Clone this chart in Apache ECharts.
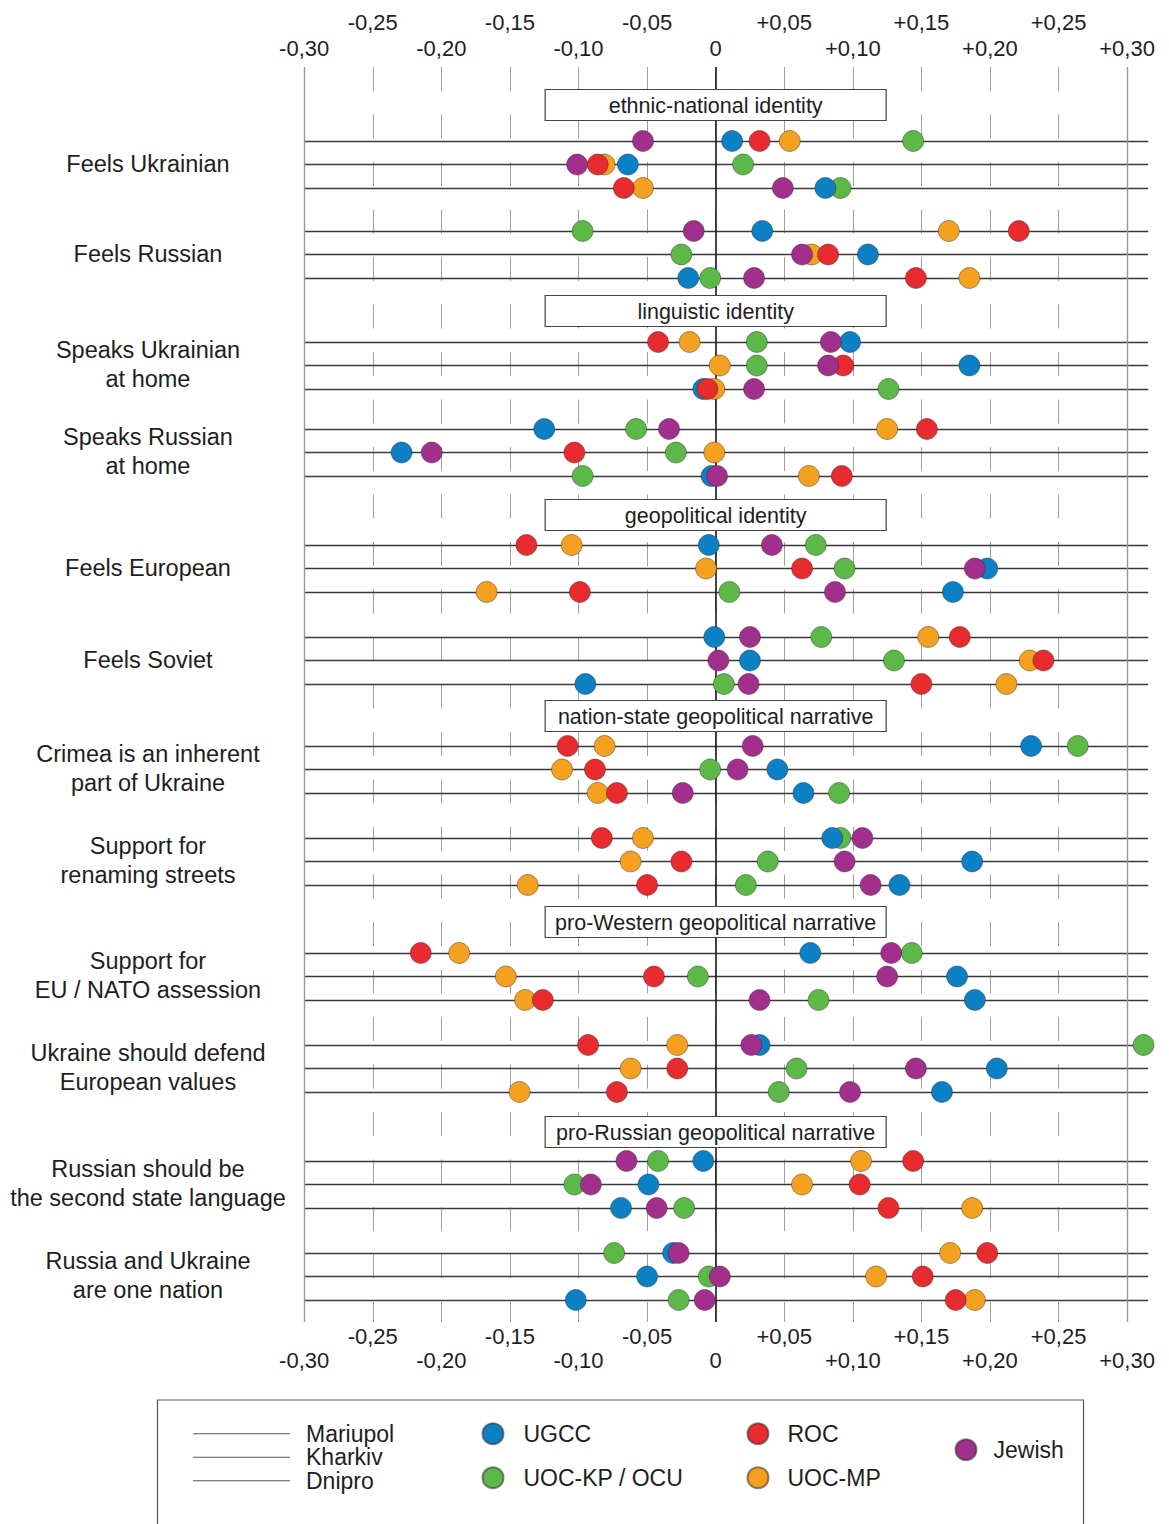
<!DOCTYPE html>
<html>
<head>
<meta charset="utf-8">
<script src="https://cdn.jsdelivr.net/npm/echarts@6/dist/echarts.min.js"></script>
<style>
  html, body { margin: 0; padding: 0; background: #fff; }
  #chart { width: 1169px; height: 1524px; }
</style>
</head>
<body>
<div id="chart"></div>
<script>
// ---- data ----------------------------------------------------------------
const groups = ['UGCC', 'UOC-KP / OCU', 'ROC', 'UOC-MP', 'Jewish'];
const cities = ['Mariupol', 'Kharkiv', 'Dnipro'];
const sections = [
  'ethnic-national identity',
  'linguistic identity',
  'geopolitical identity',
  'nation-state geopolitical narrative',
  'pro-Western geopolitical narrative',
  'pro-Russian geopolitical narrative'
];
const items = [
  'Feels Ukrainian',
  'Feels Russian',
  'Speaks Ukrainian\nat home',
  'Speaks Russian\nat home',
  'Feels European',
  'Feels Soviet',
  'Crimea is an inherent\npart of Ukraine',
  'Support for\nrenaming streets',
  'Support for\nEU / NATO assession',
  'Ukraine should defend\nEuropean values',
  'Russian should be\nthe second state language',
  'Russia and Ukraine\nare one nation'
];
const tickLabels = ['-0,30', '-0,25', '-0,20', '-0,15', '-0,10', '-0,05', '0',
                    '+0,05', '+0,10', '+0,15', '+0,20', '+0,25', '+0,30'];

// one row per item: [Mariupol, Kharkiv, Dnipro]
const ugcc = [
  [0.012, -0.064, 0.080], [0.034, 0.111, -0.020],
  [0.098, 0.185, -0.009], [-0.125, -0.229, -0.003],
  [-0.005, 0.198, 0.173], [-0.001, 0.025, -0.095],
  [0.230, 0.045, 0.064], [0.085, 0.187, 0.134],
  [0.069, 0.176, 0.189], [0.032, 0.205, 0.165],
  [-0.009, -0.049, -0.069], [-0.031, -0.050, -0.102]
];
const uocKp = [
  [0.144, 0.020, 0.091], [-0.097, -0.025, -0.004],
  [0.030, 0.030, 0.126], [-0.058, -0.029, -0.097],
  [0.073, 0.094, 0.010], [0.077, 0.130, 0.006],
  [0.264, -0.004, 0.090], [0.091, 0.038, 0.022],
  [0.143, -0.013, 0.075], [0.312, 0.059, 0.046],
  [-0.042, -0.103, -0.023], [-0.074, -0.005, -0.027]
];
const roc = [
  [0.032, -0.086, -0.067], [0.221, 0.082, 0.146],
  [-0.042, 0.093, -0.006], [0.154, -0.103, 0.092],
  [-0.138, 0.063, -0.099], [0.178, 0.239, 0.150],
  [-0.108, -0.088, -0.072], [-0.083, -0.025, -0.050],
  [-0.215, -0.045, -0.126], [-0.093, -0.028, -0.072],
  [0.144, 0.105, 0.126], [0.198, 0.151, 0.175]
];
const uocMp = [
  [0.054, -0.081, -0.053], [0.170, 0.070, 0.185],
  [-0.019, 0.003, -0.001], [0.125, -0.001, 0.068],
  [-0.105, -0.007, -0.167], [0.155, 0.229, 0.212],
  [-0.081, -0.112, -0.086], [-0.053, -0.062, -0.137],
  [-0.187, -0.153, -0.139], [-0.028, -0.062, -0.143],
  [0.106, 0.063, 0.187], [0.171, 0.117, 0.189]
];
const jewish = [
  [-0.053, -0.101, 0.049], [-0.016, 0.063, 0.028],
  [0.084, 0.082, 0.028], [-0.034, -0.207, 0.001],
  [0.041, 0.189, 0.087], [0.025, 0.002, 0.024],
  [0.027, 0.016, -0.024], [0.107, 0.094, 0.113],
  [0.128, 0.125, 0.032], [0.026, 0.146, 0.098],
  [-0.065, -0.091, -0.043], [-0.027, 0.003, -0.008]
];
const groupValues = [ugcc, uocKp, roc, uocMp, jewish];
const groupColors = ['#0b80c5', '#5cb847', '#e82b2e', '#f4a11f', '#a32f8d'];

// ---- layout ----------------------------------------------------------------
const FONT = '"Liberation Sans", Arial, Helvetica, sans-serif';
const TEXT = '#1e1e1e';
const GRID = { left: 304.2, top: 67, width: 822.9, height: 1255 };
const X_MIN = -0.30, X_MAX = 0.30, STEP = 0.05, LINE_END = 0.3154;
// page y of each item's first (Mariupol) row and of each section header
const ITEM_TOP = [141, 231, 342, 429, 545, 637, 746, 838, 953, 1045, 1161, 1253];
const HEADER_MID = [105, 311, 515, 716, 922, 1132];
const ROW_GAP = 23.5;
const LABEL_X = 148;
const DOT = 21;

// vertical position (px below grid top) of an item's city row
function rowY(item, city) {
  return ITEM_TOP[item] + city * ROW_GAP - GRID.top;
}
function headerY(s) {
  return HEADER_MID[s] - GRID.top;
}

const tickIndex = v => Math.round((v - X_MIN) / STEP);
function xAxisDef(gridIndex, position, even, margin, extra) {
  return Object.assign({
    type: 'value', gridIndex, position, min: X_MIN, max: X_MAX, interval: STEP,
    axisLine: { show: false }, axisTick: { show: false }, splitLine: { show: false },
    axisLabel: {
      show: true, margin, fontFamily: FONT, fontSize: 22, color: TEXT,
      formatter: v => ((tickIndex(v) % 2 === 0) === even ? tickLabels[tickIndex(v)] : '')
    }
  }, extra || {});
}
function yAxisDef(gridIndex) {
  return { type: 'value', gridIndex, min: 0, max: GRID.height, inverse: true, show: false };
}

// ---- series ----------------------------------------------------------------
const series = [];

// city rows
cities.forEach((c, ci) => {
  series.push({
    type: 'lines', name: c, coordinateSystem: 'cartesian2d',
    xAxisIndex: 0, yAxisIndex: 0, polyline: false, clip: false, silent: true, z: 1,
    lineStyle: { color: '#3a3a3a', width: 1.3, opacity: 1 },
    data: items.map((_, i) => ({ coords: [[X_MIN, rowY(i, ci)], [LINE_END, rowY(i, ci)]] }))
  });
});

// frame lines and zero line
series.push({
  type: 'scatter', xAxisIndex: 0, yAxisIndex: 0, data: [], silent: true, z: 2,
  markLine: {
    z: 2, symbol: 'none', silent: true, animation: false, label: { show: false },
    data: [
      { xAxis: X_MIN, lineStyle: { color: '#999', width: 1.4, type: 'solid' } },
      { xAxis: X_MAX, lineStyle: { color: '#999', width: 1.4, type: 'solid' } },
      { xAxis: 0, lineStyle: { color: '#1a1a1a', width: 1.6, type: 'solid' } }
    ]
  }
});

// section header boxes
series.push({
  type: 'custom', xAxisIndex: 0, yAxisIndex: 0, z: 8, silent: true,
  data: sections.map((_, s) => [0, headerY(s)]),
  renderItem: (params, api) => {
    const p = api.coord([api.value(0), api.value(1)]);
    return {
      type: 'group',
      children: [
        { type: 'rect', shape: { x: p[0] - 170.5, y: p[1] - 15.5, width: 341, height: 31 },
          style: { fill: '#fff', stroke: '#444', lineWidth: 1.2 } },
        { type: 'text', style: { x: p[0], y: p[1] + 1, text: sections[params.dataIndex],
          font: '21.5px ' + FONT, fill: TEXT, align: 'center', verticalAlign: 'middle' } }
      ]
    };
  }
});

// item labels on the left
series.push({
  type: 'custom', xAxisIndex: 0, yAxisIndex: 0, z: 8, silent: true,
  data: items.map((_, i) => [X_MIN, rowY(i, 1) - 1]),
  renderItem: (params, api) => {
    const p = api.coord([api.value(0), api.value(1)]);
    return {
      type: 'text',
      style: { x: LABEL_X, y: p[1], text: items[params.dataIndex], font: '23.5px ' + FONT,
        lineHeight: 29, fill: TEXT, align: 'center', verticalAlign: 'middle' }
    };
  }
});

// dots, drawn UOC-MP, UOC-KP, UGCC, ROC, Jewish (back to front)
[3, 1, 0, 2, 4].forEach((g, order) => {
  const data = [];
  groupValues[g].forEach((row, i) => row.forEach((v, ci) => data.push([v, rowY(i, ci)])));
  series.push({
    type: 'scatter', name: groups[g], xAxisIndex: 0, yAxisIndex: 0, clip: false,
    symbol: 'circle', symbolSize: DOT, z: 10 + order,
    itemStyle: { color: groupColors[g], borderColor: 'rgba(40,40,40,0.55)', borderWidth: 0.8, opacity: 1 },
    data
  });
});

const legendText = { fontFamily: FONT, fontSize: 23, color: TEXT, lineHeight: 23.5 };

const option = {
  animation: false,
  backgroundColor: '#fff',
  grid: [
    { left: GRID.left, top: GRID.top, width: GRID.width, height: GRID.height },
    { left: GRID.left, top: GRID.top, width: GRID.width, height: GRID.height }
  ],
  xAxis: [
    xAxisDef(0, 'bottom', true, 27, {
      splitLine: { show: true, lineStyle: { color: '#a0a0a0', width: 1, type: [24, 23.5], dashOffset: 0 } }
    }),
    xAxisDef(0, 'top', true, 8),
    xAxisDef(1, 'bottom', false, 3),
    xAxisDef(1, 'top', false, 34)
  ],
  yAxis: [yAxisDef(0), yAxisDef(1)],
  legend: [
    {
      data: cities.map(n => ({ name: n, icon: 'rect' })), orient: 'vertical', padding: 0,
      left: 193, top: 1422, itemWidth: 97, itemHeight: 1, itemGap: 0, selectedMode: false,
      itemStyle: { color: '#555', borderWidth: 0 },
      lineStyle: { width: 0 },
      textStyle: Object.assign({ padding: [0, 0, 0, 11] }, legendText)
    },
    {
      data: [groups[0], groups[1]], orient: 'vertical', padding: 0, left: 481.5, top: 1422,
      icon: 'circle', itemWidth: DOT, itemHeight: DOT, itemGap: 20.5, selectedMode: false,
      textStyle: Object.assign({ padding: [0, 0, 0, 15] }, legendText)
    },
    {
      data: [groups[2], groups[3]], orient: 'vertical', padding: 0, left: 746.5, top: 1422,
      icon: 'circle', itemWidth: DOT, itemHeight: DOT, itemGap: 20.5, selectedMode: false,
      textStyle: Object.assign({ padding: [0, 0, 0, 14] }, legendText)
    },
    {
      data: [groups[4]], orient: 'vertical', padding: 0, left: 954.5, top: 1438,
      icon: 'circle', itemWidth: DOT, itemHeight: DOT, selectedMode: false,
      textStyle: Object.assign({ padding: [0, 0, 0, 12] }, legendText)
    }
  ],
  graphic: [
    { type: 'rect', left: 155, top: 1397.5, shape: { width: 926, height: 200 },
      style: { fill: 'none', stroke: '#555', lineWidth: 1.2 }, silent: true }
  ],
  series
};

const chart = echarts.init(document.getElementById('chart'), null, { renderer: 'svg' });
chart.setOption(option);
</script>
</body>
</html>
